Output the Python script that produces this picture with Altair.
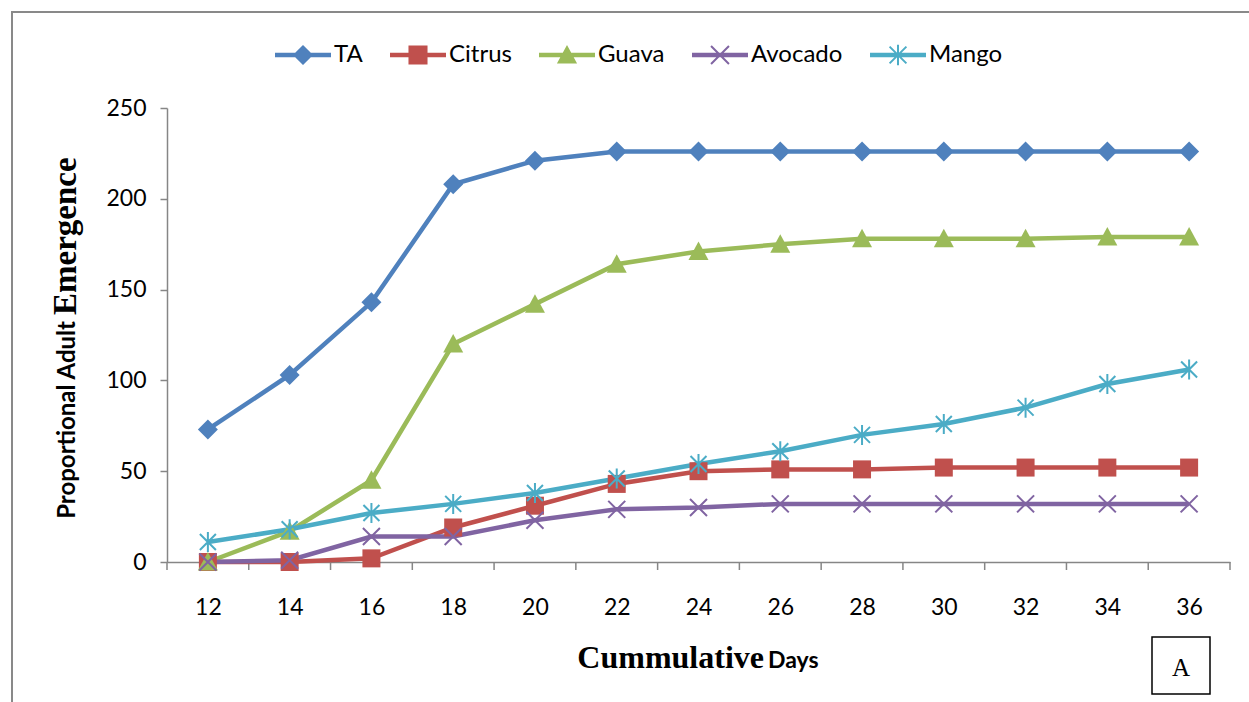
import altair as alt
import pandas as pd

# Cumulative adult emergence by host
days = [12, 14, 16, 18, 20, 22, 24, 26, 28, 30, 32, 34, 36]
series_names = ["TA", "Citrus", "Guava", "Avocado", "Mango"]
ta = [73, 103, 143, 208, 221, 226, 226, 226, 226, 226, 226, 226, 226]
citrus = [0, 0, 2, 19, 31, 43, 50, 51, 51, 52, 52, 52, 52]
guava = [0, 17, 45, 120, 142, 164, 171, 175, 178, 178, 178, 179, 179]
avocado = [0, 1, 14, 14, 23, 29, 30, 32, 32, 32, 32, 32, 32]
mango = [11, 18, 27, 32, 38, 46, 54, 61, 70, 76, 85, 98, 106]
y_ticks = [0, 50, 100, 150, 200, 250]
tick_days = [11, 13, 15, 17, 19, 21, 23, 25, 27, 29, 31, 33, 35, 37]
colors = ["#4F81BD", "#C0504D", "#9BBB59", "#8064A2", "#4BACC6"]

W, H = 1063, 454
PAD_L, PAD_T = 167, 108

rows = []
for name, vals in zip(series_names, [ta, citrus, guava, avocado, mango]):
    for d, v in zip(days, vals):
        rows.append({"series": name, "day": d, "value": v})
df = pd.DataFrame(rows)


# ---- symbol paths (unit box -1..1) ----
def poly(pts):
    return "M" + "L".join(f"{x:.3f},{y:.3f}" for x, y in pts) + "Z"


def xcross(s, w):
    a = w / 2 ** 0.5
    p1 = poly([(-s + a, -s - a), (s + a, s - a), (s - a, s + a), (-s - a, -s + a)])
    p2 = poly([(-s - a, s - a), (s - a, -s - a), (s + a, -s + a), (-s + a, s + a)])
    return p1 + p2


def vbar(w, L):
    return poly([(-w, -L), (w, -L), (w, L), (-w, L)])


def diamond(r):
    return poly([(0, -r), (r, 0), (0, r), (-r, 0)])


def square(r):
    return poly([(-r, -r), (r, -r), (r, r), (-r, r)])


def triangle(r):
    return poly([(0, -r), (r, 0.85 * r), (-r, 0.85 * r)])


marker_paths = [
    diamond(1.0),
    square(0.9),
    triangle(1.0),
    xcross(0.85, 0.1),
    xcross(0.8, 0.1) + vbar(0.1, 1.0),
]

line_bar = poly([(-1, -0.077), (1, -0.077), (1, 0.077), (-1, 0.077)])
legend_paths = [
    line_bar + diamond(0.36),
    line_bar + square(0.34),
    line_bar + triangle(0.36),
    line_bar + xcross(0.32, 0.036),
    line_bar + xcross(0.3, 0.036) + vbar(0.036, 0.37),
]

axis_gray = "#868686"
label_size = 23

x_enc = alt.X(
    "day:Q",
    scale=alt.Scale(domain=[11, 37], nice=False, zero=False),
    axis=alt.Axis(values=days, ticks=False, labelPadding=34, title=None,
                  labelFlush=False),
)
y_enc = alt.Y(
    "value:Q",
    scale=alt.Scale(domain=[0, 250], nice=False),
    axis=alt.Axis(values=y_ticks, tickSize=7, labelPadding=14, title=None),
)

lines = alt.Chart(df).mark_line(strokeWidth=4.5).encode(
    x=x_enc,
    y=y_enc,
    color=alt.Color("series:N", scale=alt.Scale(domain=series_names, range=colors), legend=None),
)

points = alt.Chart(df).mark_point(filled=True, size=400, opacity=1).encode(
    x=x_enc,
    y=y_enc,
    color=alt.Color("series:N", scale=alt.Scale(domain=series_names, range=colors), legend=None),
    shape=alt.Shape("series:N", scale=alt.Scale(domain=series_names, range=marker_paths), legend=None),
)

legend_def = alt.Legend(
    orient="none", legendX=108, legendY=-81, direction="horizontal", title=None,
    symbolSize=3136, symbolStrokeWidth=0, symbolOpacity=1,
    labelFont="Lato", labelFontSize=24, labelColor="black", labelOffset=3,
    columnPadding=27, padding=0,
)
legend_layer = alt.Chart(df).mark_point(filled=True, opacity=0, size=1).encode(
    x=x_enc,
    y=y_enc,
    color=alt.Color("series:N", scale=alt.Scale(domain=series_names, range=colors), legend=legend_def),
    shape=alt.Shape("series:N", scale=alt.Scale(domain=series_names, range=legend_paths), legend=legend_def),
)

ticks = alt.Chart(pd.DataFrame({"day": tick_days})).mark_rule(
    color=axis_gray, strokeWidth=1.5
).encode(x=x_enc, y=alt.value(H), y2=alt.value(H + 8))

# outer frame
frame = alt.Chart(pd.DataFrame({"k": [0]})).mark_rect(
    fill=None, stroke="#898989", strokeWidth=2
).encode(
    x=alt.value(12 - PAD_L), x2=alt.value(1260 - PAD_L),
    y=alt.value(12 - PAD_T), y2=alt.value(720 - PAD_T),
)

# panel letter box
box = alt.Chart(pd.DataFrame({"k": [0]})).mark_rect(
    fill="white", stroke="black", strokeWidth=1.5
).encode(
    x=alt.value(1152 - PAD_L), x2=alt.value(1210 - PAD_L),
    y=alt.value(637 - PAD_T), y2=alt.value(694 - PAD_T),
)
box_label = alt.Chart(pd.DataFrame({"t": ["A"]})).mark_text(
    font="Liberation Serif", fontSize=25, color="black", align="center", baseline="middle"
).encode(x=alt.value(1181 - PAD_L), y=alt.value(668 - PAD_T), text="t:N")

# axis titles with mixed typefaces
x_title_a = alt.Chart(pd.DataFrame({"t": ["Cummulative"]})).mark_text(
    font="Liberation Serif", fontWeight="bold", fontSize=32, color="black",
    align="right", baseline="alphabetic"
).encode(x=alt.value(764 - PAD_L), y=alt.value(668 - PAD_T), text="t:N")
x_title_b = alt.Chart(pd.DataFrame({"t": ["Days"]})).mark_text(
    font="Lato", fontWeight="bold", fontSize=23, color="black",
    align="left", baseline="alphabetic"
).encode(x=alt.value(768 - PAD_L), y=alt.value(668 - PAD_T), text="t:N")

# rotated text reads upward: "right" ends the text at the anchor, "left" starts it there
y_title_a = alt.Chart(pd.DataFrame({"t": ["Proportional Adult"]})).mark_text(
    font="Lato", fontWeight="bold", fontSize=24, color="black", angle=270,
    align="right", baseline="middle"
).encode(x=alt.value(68 - PAD_L), y=alt.value(321 - PAD_T), text="t:N")
y_title_b = alt.Chart(pd.DataFrame({"t": ["Emergence"]})).mark_text(
    font="Liberation Serif", fontWeight="bold", fontSize=33, color="black", angle=270,
    align="left", baseline="middle"
).encode(x=alt.value(66 - PAD_L), y=alt.value(315 - PAD_T), text="t:N")

chart = alt.layer(
    frame, ticks, lines, points, legend_layer, box, box_label,
    x_title_a, x_title_b, y_title_a, y_title_b,
).resolve_scale(
    color="independent", shape="independent"
).properties(
    width=W, height=H,
    autosize=alt.AutoSizeParams(type="none"),
    padding={"left": PAD_L, "top": PAD_T, "right": 1249 - PAD_L - W, "bottom": 702 - PAD_T - H},
    background="white",
).configure_view(
    stroke=None
).configure_axis(
    labelFont="Lato", labelFontSize=label_size, labelColor="black",
    domainColor=axis_gray, tickColor=axis_gray, domainWidth=1.5, tickWidth=1.5,
    grid=False,
)

chart.save("out.html", embed_options={"renderer": "svg", "actions": False})
